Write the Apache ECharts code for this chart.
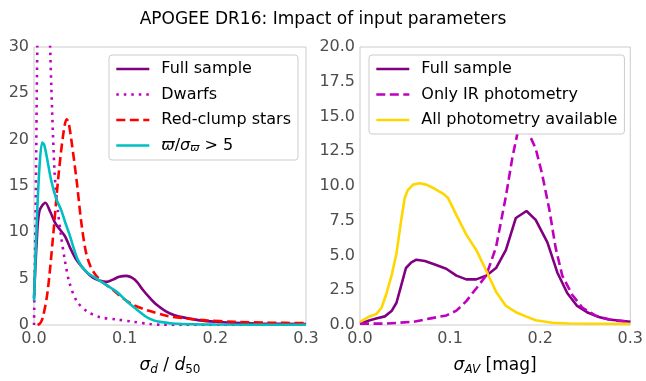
<!DOCTYPE html>
<html><head><meta charset="utf-8">
<script src="https://cdn.jsdelivr.net/npm/echarts@6/dist/echarts.min.js"></script>
<style>html,body{margin:0;padding:0;background:#fff}#c{width:646px;height:381px}</style>
</head><body><div id="c"></div>
<script>
// Left panel: sigma_d / d50
const fullLeft = [[0,2.9],[0.003,9],[0.006,12.3],[0.0125,13.2],[0.018,12.2],[0.024,10.9],[0.034,9.6],[0.04,8.3],[0.047,7.0],[0.058,5.7],[0.065,5.1],[0.072,4.8],[0.08,4.65],[0.087,4.9],[0.094,5.2],[0.102,5.3],[0.108,5.1],[0.114,4.6],[0.12,3.8],[0.127,3.0],[0.135,2.2],[0.145,1.5],[0.155,1.05],[0.168,0.75],[0.183,0.5],[0.2,0.35],[0.22,0.25],[0.25,0.15],[0.3,0.1]];
const dwarfs = [[0,0],[0.002,14],[0.004,32],[0.008,45],[0.012,44],[0.016,36],[0.019,26],[0.0228,16.3],[0.0265,12.2],[0.03,9.5],[0.034,7],[0.039,4.6],[0.047,2.6],[0.058,1.5],[0.072,0.86],[0.091,0.6],[0.109,0.35],[0.128,0.1],[0.14,0.02],[0.3,0]];
const redClump = [[0.004,0],[0.007,0.2],[0.01,0.9],[0.015,3.6],[0.021,9.5],[0.0265,15.6],[0.032,20.4],[0.036,22.2],[0.038,21.9],[0.041,20.1],[0.047,15.6],[0.052,11.2],[0.057,8],[0.062,6.4],[0.068,5.4],[0.076,4.6],[0.087,3.8],[0.098,2.9],[0.109,2.2],[0.12,1.75],[0.128,1.5],[0.146,1.0],[0.168,0.7],[0.19,0.5],[0.22,0.35],[0.26,0.25],[0.3,0.2]];
const parallax = [[0,2.6],[0.003,11],[0.006,17],[0.009,19.7],[0.011,19.5],[0.0136,18.4],[0.019,15.6],[0.0246,13.6],[0.03,12.4],[0.034,11.2],[0.039,9.8],[0.0485,7],[0.058,5.7],[0.069,5.0],[0.08,4.3],[0.091,3.6],[0.102,2.6],[0.113,1.7],[0.124,0.86],[0.132,0.5],[0.139,0.34],[0.153,0.17],[0.2,0.05],[0.3,0.02]];
// Right panel: sigma_AV
const fullRight = [[0,0.1],[0.011,0.34],[0.018,0.46],[0.0276,0.62],[0.035,1.0],[0.0405,1.6],[0.046,2.9],[0.051,4.1],[0.057,4.5],[0.0626,4.7],[0.072,4.6],[0.083,4.35],[0.0957,4.05],[0.107,3.55],[0.118,3.28],[0.129,3.28],[0.14,3.55],[0.151,4.1],[0.162,5.4],[0.173,7.7],[0.1848,8.2],[0.195,7.56],[0.208,5.95],[0.219,3.78],[0.23,2.3],[0.241,1.37],[0.252,0.92],[0.265,0.57],[0.276,0.39],[0.3,0.23]];
const onlyIR = [[0,0.1],[0.029,0.1],[0.059,0.23],[0.077,0.46],[0.096,0.69],[0.107,1.03],[0.118,1.72],[0.129,2.63],[0.14,3.55],[0.151,5.6],[0.162,9.28],[0.169,12.0],[0.175,13.86],[0.18,14.1],[0.186,13.97],[0.195,12.7],[0.202,10.9],[0.21,8.36],[0.217,5.6],[0.2245,3.55],[0.2355,2.18],[0.2466,1.26],[0.261,0.69],[0.28,0.34],[0.3,0.23]];
const allPhot = [[0,0.23],[0.0092,0.57],[0.0184,0.8],[0.024,1.26],[0.029,2.18],[0.035,3.55],[0.0405,5.15],[0.046,7.67],[0.0497,9.16],[0.053,9.7],[0.059,10.1],[0.066,10.2],[0.0736,10.1],[0.083,9.8],[0.092,9.46],[0.0975,9.16],[0.107,7.9],[0.118,6.5],[0.129,5.4],[0.136,4.47],[0.1435,3.44],[0.151,2.4],[0.162,1.37],[0.173,0.92],[0.184,0.62],[0.195,0.34],[0.2135,0.16],[0.232,0.11],[0.3,0.07]];
const xTicks = [0, 0.1, 0.2, 0.3];

const FONT = 'DejaVu Sans';
const grey = '#4d4d4d';
const chart = echarts.init(document.getElementById('c'), null, {renderer:'canvas'});
function xAx(idx, name){
  return {type:'value', gridIndex:idx, min:0, max:0.3, interval:0.1,
    axisLine:{show:false}, axisTick:{show:false}, splitLine:{show:false},
    axisLabel:{color:grey, fontSize:16, fontFamily:FONT, margin:6, formatter:v=>v.toFixed(1)},
    name:name, nameLocation:'middle', nameGap:31,
    nameTextStyle:{color:'#000', fontFamily:FONT, fontSize:17,
      rich:{i:{fontStyle:'italic', fontSize:17, fontFamily:FONT, color:'#000'},
            s:{fontStyle:'italic', fontSize:12, fontFamily:FONT, color:'#000', padding:[8,0,0,0]},
            n:{fontSize:12, fontFamily:FONT, color:'#000', padding:[8,0,0,0]},
            t:{fontSize:17, fontFamily:FONT, color:'#000'}}}};
}
function yAx(idx, max, interval, fmt){
  return {type:'value', gridIndex:idx, min:0, max:max, interval:interval,
    axisLine:{show:false}, axisTick:{show:false}, splitLine:{show:false},
    axisLabel:{color:grey, fontSize:16, fontFamily:FONT, margin:5, formatter:fmt}};
}
function line(name, data, color, type, xi, smooth){
  return {name:name, type:'line', data:data, xAxisIndex:xi, yAxisIndex:xi,
    showSymbol:false, symbol:'none', smooth:smooth, clip:true,
    lineStyle:{color:color, width:2.6, type:type}, itemStyle:{color:color}};
}
const legendBase = {orient:'vertical', itemWidth:33, itemHeight:14, itemGap:9.5,
  backgroundColor:'#fff', borderColor:'#cccccc', borderWidth:1, borderRadius:3,
  itemStyle:{opacity:0}, lineStyle:{width:2.6},
  padding:[6,7,6,6], textStyle:{color:'#000', fontSize:16, fontFamily:FONT, padding:[0,0,0,7],
    rich:{i:{fontStyle:'italic', fontSize:16, fontFamily:FONT}, s:{fontStyle:'italic', fontSize:11, fontFamily:FONT, padding:[6,0,0,0]}, t:{fontSize:16, fontFamily:FONT}}}};
chart.setOption({
  animation:false,
  textStyle:{fontFamily:FONT},
  title:{text:'APOGEE DR16: Impact of input parameters', left:'center', top:6,
    textStyle:{fontSize:17, fontWeight:'normal', color:'#000', fontFamily:FONT}},
  grid:[
    {left:34, top:47, width:272, height:291, show:true, borderColor:'#cccccc', borderWidth:1, backgroundColor:'transparent'},
    {left:360, top:47, width:272, height:291, show:true, borderColor:'#cccccc', borderWidth:1, backgroundColor:'transparent'}
  ],
  xAxis:[xAx(0, '{i|σ}{s|d}{t| / }{i|d}{n|50}'), xAx(1, '{i|σ}{s|AV}{t| [mag]}')],
  yAxis:[yAx(0, 30, 5, v=>String(v)), yAx(1, 20, 2.5, v=>v.toFixed(1))],
  legend:[
    Object.assign({}, legendBase, {left:109, top:55,
      data:['Full sample','Dwarfs','Red-clump stars','parallax'],
      formatter:n=> n==='parallax' ? '{i|ϖ}{t|/}{i|σ}{s|ϖ}{t| > 5}' : n}),
    Object.assign({}, legendBase, {left:369, top:55,
      data:['Full sample ','Only IR photometry','All photometry available']})
  ],
  series:[
    line('Full sample', fullLeft, '#800080', 'solid', 0, 0.3),
    line('Dwarfs', dwarfs, '#bf00bf', [2.5,5], 0, 0.3),
    line('Red-clump stars', redClump, '#ff0000', [9,4.5], 0, 0.3),
    line('parallax', parallax, '#00bfbf', 'solid', 0, 0.3),
    line('Full sample ', fullRight, '#800080', 'solid', 1, false),
    line('Only IR photometry', onlyIR, '#bf00bf', [9,4.5], 1, false),
    line('All photometry available', allPhot, '#ffd700', 'solid', 1, false)
  ]
});
</script></body></html>
